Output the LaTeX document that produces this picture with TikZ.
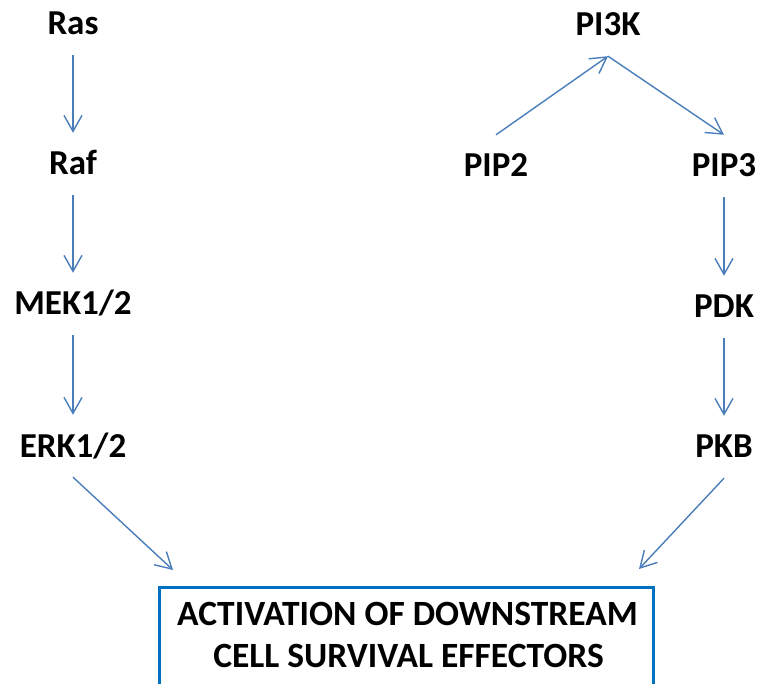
\documentclass[tikz,border=0pt]{standalone}
\usepackage{fontspec}
\setmainfont{Carlito}
\usetikzlibrary{arrows.meta}
\definecolor{arrowblue}{HTML}{4A7EBB}
\definecolor{boxblue}{HTML}{0070C0}
\begin{document}
\begin{tikzpicture}[x=1pt,y=-1pt,
  lbl/.style={font=\fontsize{35}{42}\selectfont\bfseries, inner xsep=2pt, inner ysep=20pt, text height=22pt, text depth=0pt, anchor=base},
  btxt/.style={font=\fontsize{35.5}{42}\selectfont\bfseries, inner sep=0pt, anchor=base},
  conn/.style={draw=arrowblue, line width=1.4pt, -{Straight Barb[length=16pt,width=18pt,line width=1.4pt]}},
  effbox/.style={draw=boxblue, line width=3pt, minimum width=494pt, minimum height=200pt, anchor=north, inner sep=0pt}]
\path[use as bounding box] (0,0) rectangle (758,684);
% left column
\node[lbl] (ras) at (73,35) {Ras};
\node[lbl] (raf) at (73,175) {Raf};
\node[lbl] (mek) at (73,315) {MEK1/2};
\node[lbl] (erk) at (73,457) {ERK1/2};
% right column
\node[lbl] (pi3k) at (608,36) {PI3K};
\node[lbl] (pip2) at (496,177) {PIP2};
\node[lbl] (pip3) at (724,177) {PIP3};
\node[lbl] (pdk) at (724,318) {PDK};
\node[lbl] (pkb) at (724,458) {PKB};
% effector box
\node[effbox] (eff) at (406.5,586) {};
\node[btxt] (efftop) at (407.5,625) {ACTIVATION OF DOWNSTREAM};
\node[btxt] (effbot) at (408.5,667) {CELL SURVIVAL EFFECTORS};
\coordinate (effL) at (173,570);
\coordinate (effR) at (639,569);
% connectors
\draw[conn] (ras.south) -- (raf.north);
\draw[conn] (raf.south) -- (mek.north);
\draw[conn] (mek.south) -- (erk.north);
\draw[conn] (erk.south) -- (effL);
\draw[conn] (pip2.north) -- (pi3k.south);
\draw[conn] (pi3k.south) -- (pip3.north);
\draw[conn] (pip3.south) -- (pdk.north);
\draw[conn] (pdk.south) -- (pkb.north);
\draw[conn] (pkb.south) -- (effR);
\end{tikzpicture}
\end{document}
